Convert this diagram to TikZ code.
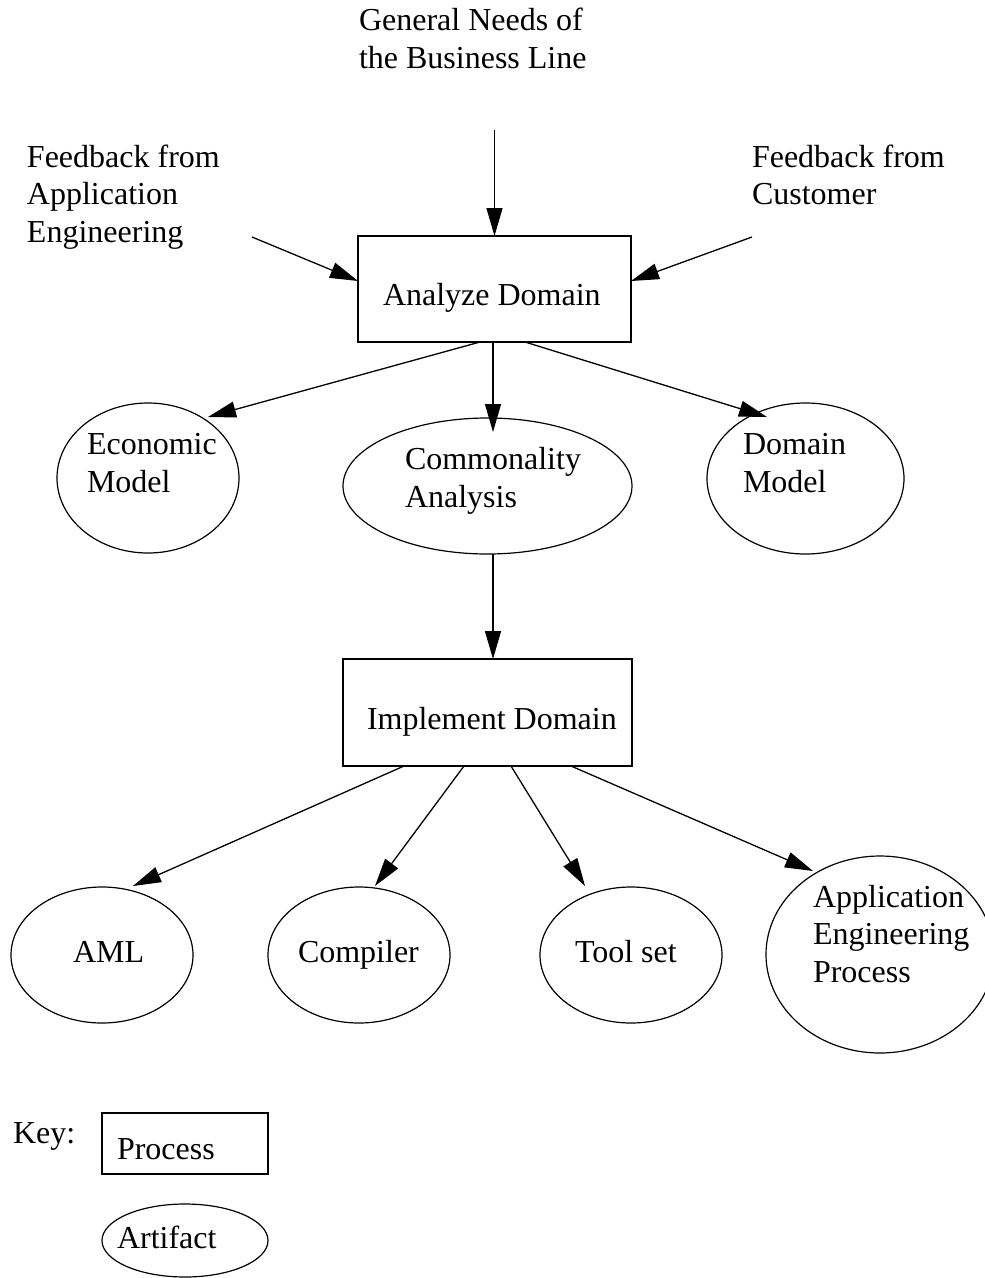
\documentclass[tikz,border=0pt]{standalone}
\usepackage{fontspec}
\setmainfont{Liberation Serif}
\usetikzlibrary{arrows.meta,shapes.geometric}
\begin{document}
\begin{tikzpicture}[x=1pt,y=-1pt,
  every node/.style={inner sep=0pt, outer sep=0pt},
  % multi-line labels sit on the baseline of their last line
  txt/.style={font=\fontsize{32}{37.5}\selectfont, align=left, anchor=base west},
  procbox/.style={draw, rectangle, line width=1.2pt},
  artifact/.style={draw, ellipse, line width=1.2pt},
  flow/.style={-{Triangle[length=28pt,width=16pt]}, line width=1.3pt}]
\useasboundingbox (0,0) rectangle (985,1278);

% processes
\node[procbox, minimum width=273pt, minimum height=106pt] (ad) at (494.5,289) {};
\node[procbox, minimum width=289pt, minimum height=107pt] (imp) at (487.5,712.5) {};

% artifacts
\node[artifact, minimum width=182pt, minimum height=150pt] (econ) at (148,478) {};
\node[artifact, minimum width=289pt, minimum height=136pt] (comm) at (487.5,486) {};
\node[artifact, minimum width=197pt, minimum height=151pt] (dom) at (805.5,478.5) {};
\node[artifact, minimum width=182pt, minimum height=136pt] (aml) at (102,955) {};
\node[artifact, minimum width=182pt, minimum height=136pt] (comp) at (359,955) {};
\node[artifact, minimum width=182pt, minimum height=136pt] (tool) at (631,955) {};
\node[artifact, minimum width=228pt, minimum height=197pt] (aep) at (880,954.5) {};

% key
\node[procbox, minimum width=166pt, minimum height=61pt] (keyproc) at (185,1143.5) {};
\node[artifact, minimum width=166pt, minimum height=73pt] (keyart) at (185,1240.5) {};

% labels
\node[txt] (t-needs) at (359,68) {General Needs of\\the Business Line};
\node[txt] (t-fbapp) at (27,242) {Feedback from\\Application\\Engineering};
\node[txt] (t-fbcus) at (752,204.5) {Feedback from\\Customer};
\node[txt] (t-ad) at (383,305) {Analyze Domain};
\node[txt] (t-econ) at (87,492) {Economic\\Model};
\node[txt] (t-comm) at (405,507) {Commonality\\Analysis};
\node[txt] (t-dom) at (743,492) {Domain\\Model};
\node[txt] (t-imp) at (367,729) {Implement Domain};
\node[txt] (t-aml) at (73,962) {AML};
\node[txt] (t-comp) at (298,962) {Compiler};
\node[txt] (t-tool) at (575,962) {Tool set};
\node[txt] (t-aep) at (813,982) {Application\\Engineering\\Process};
\node[txt] (t-key) at (13,1143) {Key:};
\node[txt] (t-keyproc) at (117,1159) {Process};
\node[txt] (t-keyart) at (117,1248) {Artifact};

% inputs
\coordinate (needsin) at (494.5,130);
\coordinate (fbappin) at (252,237);
\coordinate (fbcusin) at (752,237);
\draw[flow] (needsin) -- (ad.north);
\draw[flow] (fbappin) -- ([yshift=8pt]ad.west);
\draw[flow] (fbcusin) -- ([yshift=8pt]ad.east);

% analysis outputs
\draw[flow] ([xshift=-14.5pt]ad.south) -- ([xshift=60pt,yshift=61pt]econ.center);
\draw[flow] ([xshift=-1.5pt]ad.south) -- ([xshift=5.5pt,yshift=54pt]comm.center);
\draw[flow] ([xshift=30.5pt]ad.south) -- ([xshift=-38.5pt,yshift=61.5pt]dom.center);

% implementation
\draw[flow] ([xshift=5.5pt]comm.south) -- ([xshift=5.5pt]imp.north);
\draw[flow] ([xshift=-83.5pt]imp.south) -- ([xshift=31pt,yshift=69pt]aml.center);
\draw[flow] ([xshift=-23.5pt]imp.south) -- ([xshift=16pt,yshift=69pt]comp.center);
\draw[flow] ([xshift=23.5pt]imp.south) -- ([xshift=-46pt,yshift=69pt]tool.center);
\draw[flow] ([xshift=83.5pt]imp.south) -- ([xshift=-67pt,yshift=83.5pt]aep.center);
\end{tikzpicture}
\end{document}
